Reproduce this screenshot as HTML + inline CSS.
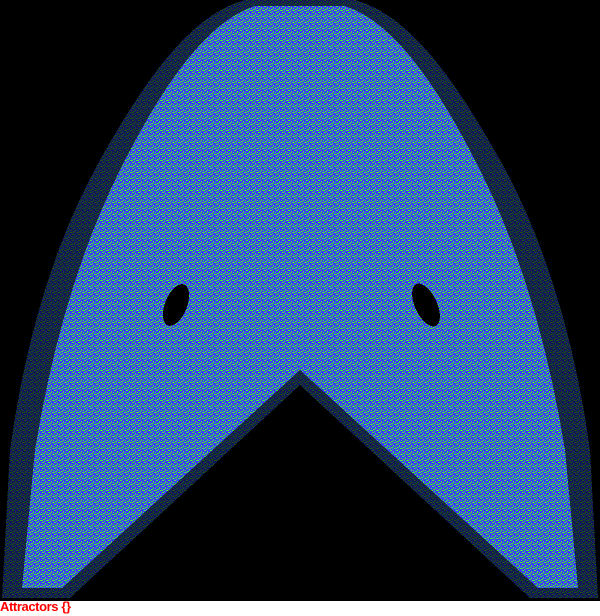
<!DOCTYPE html>
<html><head><meta charset="utf-8"><style>
html,body{margin:0;padding:0;background:#fff;width:600px;height:616px;overflow:hidden}
#plot{position:absolute;left:0;top:0}
#title{position:absolute;left:0;top:599px;font:bold 13px "Liberation Sans",sans-serif;color:#f00;letter-spacing:-0.4px}
</style></head><body>
<svg id="plot" width="600" height="601" viewBox="0 0 600 601" shape-rendering="crispEdges">
<defs>
<pattern id="px" width="6" height="6" patternUnits="userSpaceOnUse">
<rect width="6" height="6" fill="#3c3cff"/>
<rect x="0" y="0" width="2" height="1" fill="#44f030"/>
<rect x="3" y="1" width="1" height="2" fill="#44f030"/>
<rect x="1" y="3" width="2" height="1" fill="#44f030"/>
<rect x="4" y="4" width="2" height="1" fill="#44f030"/>
<rect x="5" y="2" width="1" height="1" fill="#44f030"/>
<rect x="2" y="5" width="1" height="1" fill="#44f030"/>
<rect x="0" y="4" width="1" height="1" fill="#44f030"/>
</pattern>
</defs>
<rect width="600" height="601" fill="#000"/>
<path d="M245,0 L355,0 C410,15 455,80 500,160 C545,240 575,340 590,450 L598,598 L530,598 L300,385 L70,598 L2,598 L10,450 C25,340 55,240 100,160 C145,80 190,15 245,0 Z" fill="url(#px)" opacity="0.35"/>
<path d="M255,6 L345,6 C395,22 440,90 480,170 C520,250 548,345 565,450 L578,588 L538,588 L300,370 L62,588 L22,588 L35,450 C52,345 80,250 120,170 C160,90 205,22 255,6 Z" fill="url(#px)"/>
<ellipse cx="176" cy="305" rx="11" ry="22" transform="rotate(22 176 305)" fill="#000"/>
<ellipse cx="426" cy="305" rx="11" ry="23" transform="rotate(-25 426 305)" fill="#000"/>
</svg>
<div id="title">Attractors {}</div>
</body></html>
